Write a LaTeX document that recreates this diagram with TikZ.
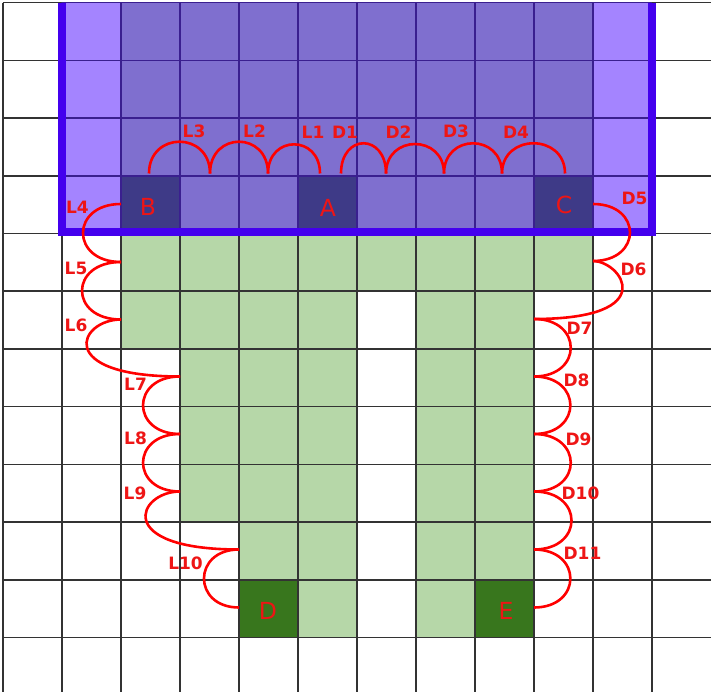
\documentclass[tikz,border=0pt]{standalone}
\usepackage{fontspec}
\newfontfamily\lblfont{DejaVu Sans}
\definecolor{lpurple}{HTML}{A484FF}
\definecolor{mpurple}{HTML}{7F6FCF}
\definecolor{navy}{HTML}{3E3A87}
\definecolor{lgreen}{HTML}{B6D7A8}
\definecolor{dgreen}{HTML}{38761D}
\definecolor{bordercol}{HTML}{4400EE}
\definecolor{gridgray}{HTML}{333333}
\definecolor{gridpurple}{HTML}{3A1F8F}
\definecolor{arcred}{HTML}{FF0000}
\definecolor{txtred}{HTML}{EE1515}
\newcommand\cellfill[3]{\fill[#3] ({2.7+59*#1},{2.7+57.7*#2}) rectangle ++(59,57.7);}
\begin{document}
\begin{tikzpicture}[x=1pt,y=-1pt,
  gridline/.style={draw=gridgray,line width=1.6pt},
  pgridline/.style={draw=gridpurple,line width=1.6pt},
  hump/.style={draw=arcred,line width=2.6pt},
  smalllbl/.style={text=txtred,inner sep=0pt,font=\lblfont\bfseries\fontsize{17}{17}\selectfont},
  biglbl/.style={text=txtred,inner sep=0pt,font=\lblfont\fontsize{23.5}{23.5}\selectfont}]
\useasboundingbox (0,0) rectangle (711,692);
\fill[white] (0,0) rectangle (711,692);
% purple zone
\fill[lpurple] (61.7,2.7) rectangle (651.7,233.5);
\fill[mpurple] (120.7,2.7) rectangle (592.7,233.5);
\cellfill{2}{3}{navy}
\cellfill{5}{3}{navy}
\cellfill{9}{3}{navy}
% green zone
\foreach \c in {2,...,9} {\cellfill{\c}{4}{lgreen}}
\foreach \c in {2,3,4,5,7,8} {\cellfill{\c}{5}{lgreen}}
\foreach \r in {6,7,8} {\foreach \c in {3,4,5,7,8} {\cellfill{\c}{\r}{lgreen}}}
\foreach \c in {4,5,7,8} {\cellfill{\c}{9}{lgreen}}
\cellfill{5}{10}{lgreen}
\cellfill{7}{10}{lgreen}
\cellfill{4}{10}{dgreen}
\cellfill{8}{10}{dgreen}
% grid
\foreach \i in {0,...,11} {\draw[gridline] ({2.7+59*\i},2.7) -- ({2.7+59*\i},692);}
\foreach \j in {0,...,11} {\draw[gridline] (2.7,{2.7+57.7*\j}) -- (711,{2.7+57.7*\j});}
\begin{scope}
\clip (61.7,2.7) rectangle (651.7,233.5);
\foreach \i in {1,...,11} {\draw[pgridline] ({2.7+59*\i},0) -- ({2.7+59*\i},240);}
\foreach \j in {0,...,4} {\draw[pgridline] (0,{2.7+57.7*\j}) -- (711,{2.7+57.7*\j});}
\end{scope}
% border
\draw[bordercol,line width=8pt] (61.5,2.7) -- (61.5,232.5) -- (651.5,232.5) -- (651.5,2.7);
% cusp points
\coordinate (t0) at (149,173.5);
\coordinate (t1) at (210,173.5);
\coordinate (t2) at (268,173.5);
\coordinate (t3) at (320,173.5);
\coordinate (t4) at (341,173.5);
\coordinate (t5) at (386,173.5);
\coordinate (t6) at (444,173.5);
\coordinate (t7) at (502,173.5);
\coordinate (t8) at (565,173.5);
\coordinate (p0) at (121,204);
\coordinate (p1) at (121,262);
\coordinate (p2) at (121,319.5);
\coordinate (p3) at (180,376.5);
\coordinate (p4) at (180,434);
\coordinate (p5) at (180,491.5);
\coordinate (p6) at (239,549.5);
\coordinate (p7) at (239,607.5);
\coordinate (q0) at (593,204);
\coordinate (q1) at (593,261);
\coordinate (q2) at (534,319);
\coordinate (q3) at (534,376.5);
\coordinate (q4) at (534,434);
\coordinate (q5) at (534,491.5);
\coordinate (q6) at (534,549.5);
\coordinate (q7) at (534,607.5);
% top humps
\draw[hump] (t0) .. controls +(0,-42.4) and +(0,-42.4) .. (t1);
\draw[hump] (t1) .. controls +(0,-42.4) and +(0,-42.4) .. (t2);
\draw[hump] (t2) .. controls +(0,-38.9) and +(0,-38.9) .. (t3);
\draw[hump] (t4) .. controls +(0,-40.3) and +(0,-40.3) .. (t5);
\draw[hump] (t5) .. controls +(0,-39.3) and +(0,-39.3) .. (t6);
\draw[hump] (t6) .. controls +(0,-40.3) and +(0,-40.3) .. (t7);
\draw[hump] (t7) .. controls +(0,-40.3) and +(0,-40.3) .. (t8);
% left humps
\draw[hump] (p0) .. controls +(-50.7,0) and +(-50.7,0) .. (p1);
\draw[hump] (p1) .. controls +(-52,0) and +(-52,0) .. (p2);
\draw[hump] (p2) .. controls +(-42,0) and +(-127,0) .. (p3);
\draw[hump] (p3) .. controls +(-49.3,0) and +(-49.3,0) .. (p4);
\draw[hump] (p4) .. controls +(-49.3,0) and +(-49.3,0) .. (p5);
\draw[hump] (p5) .. controls +(-42,0) and +(-127,0) .. (p6);
\draw[hump] (p6) .. controls +(-46.7,0) and +(-46.7,0) .. (p7);
% right humps
\draw[hump] (q0) .. controls +(49.3,0) and +(49.3,0) .. (q1);
\draw[hump] (q1) .. controls +(28,0) and +(129,0) .. (q2);
\draw[hump] (q2) .. controls +(49,0) and +(49,0) .. (q3);
\draw[hump] (q3) .. controls +(48.5,0) and +(48.5,0) .. (q4);
\draw[hump] (q4) .. controls +(49,0) and +(49,0) .. (q5);
\draw[hump] (q5) .. controls +(50,0) and +(50,0) .. (q6);
\draw[hump] (q6) .. controls +(48.5,0) and +(48.5,0) .. (q7);
% big labels
\node[biglbl] (nA) at (328,207.5) {A};
\node[biglbl] (nB) at (148,207) {B};
\node[biglbl] (nC) at (564,205) {C};
\node[biglbl] (nD) at (268,611) {D};
\node[biglbl] (nE) at (506,610.5) {E};
% small labels
\node[smalllbl] (lL1) at (313,132) {L1};
\node[smalllbl] (lL2) at (254.5,131.5) {L2};
\node[smalllbl] (lL3) at (194,131) {L3};
\node[smalllbl] (lL4) at (77.5,207.5) {L4};
\node[smalllbl] (lL5) at (76,268) {L5};
\node[smalllbl] (lL6) at (76,325) {L6};
\node[smalllbl] (lL7) at (135.5,384.5) {L7};
\node[smalllbl] (lL8) at (135.5,438) {L8};
\node[smalllbl] (lL9) at (135,493) {L9};
\node[smalllbl] (lL10) at (185.5,563) {L10};
\node[smalllbl] (lD1) at (345,132) {D1};
\node[smalllbl] (lD2) at (398.5,132) {D2};
\node[smalllbl] (lD3) at (456,131) {D3};
\node[smalllbl] (lD4) at (516,132) {D4};
\node[smalllbl] (lD5) at (634.5,198.5) {D5};
\node[smalllbl] (lD6) at (633.5,269) {D6};
\node[smalllbl] (lD7) at (579.5,328.5) {D7};
\node[smalllbl] (lD8) at (576.5,380.5) {D8};
\node[smalllbl] (lD9) at (578.5,439.5) {D9};
\node[smalllbl] (lD10) at (580.5,493) {D10};
\node[smalllbl] (lD11) at (582.5,553) {D11};
\end{tikzpicture}
\end{document}
